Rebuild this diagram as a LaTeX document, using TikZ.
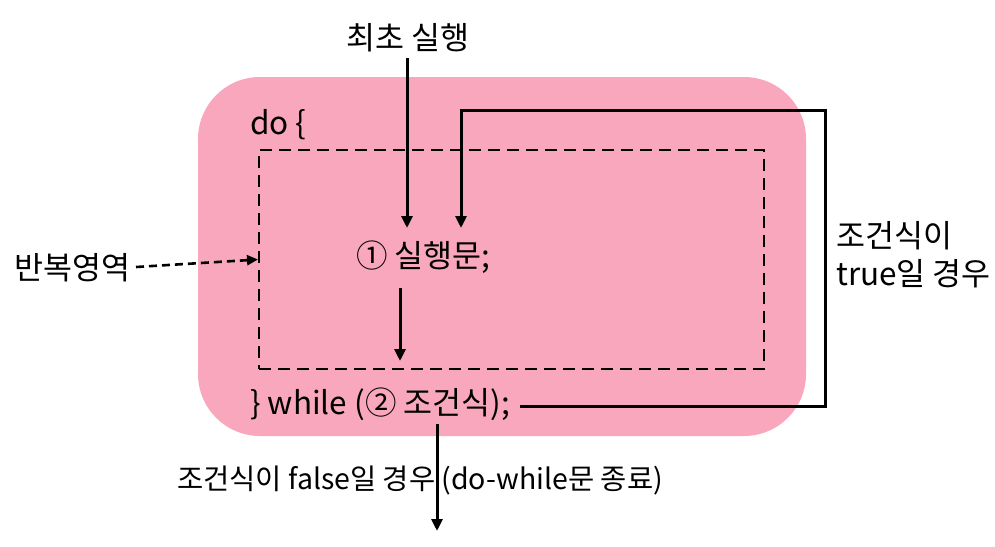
\documentclass[tikz,border=0pt]{standalone}
\usepackage{fontspec}
\setmainfont{Noto Sans CJK KR}
\usetikzlibrary{arrows.meta}
\definecolor{pinkbg}{RGB}{249,167,188}
\tikzset{
  lbl/.style={inner sep=0pt, font=\fontsize{31.5}{38}\selectfont},
  smalllbl/.style={inner sep=0pt, font=\fontsize{28.5}{34}\selectfont},
  arr/.style={line width=3pt, -{Triangle[length=12pt,width=11pt]}},
  dasharr/.style={line width=2.6pt, dash pattern=on 8pt off 5pt, -{Triangle[length=11pt,width=10pt]}},
  loopline/.style={line width=3pt},
  area/.style={draw, line width=2pt, dash pattern=on 12pt off 7pt},
}
\begin{document}
\begin{tikzpicture}[x=1pt,y=-1pt]
\useasboundingbox (0,0) rectangle (995,546);
\fill[pinkbg, rounded corners=62pt] (198,77) rectangle (806,436);
\node[area, minimum width=505pt, minimum height=219pt, anchor=north west] (region) at (258,149) {};
\node[lbl, anchor=west] (do) at (250,125) {do \{};
\node[lbl] (first) at (408,38) {최초 실행};
\node[lbl, anchor=west] (stmt) at (356,257) {① 실행문;};
\node[lbl, anchor=west] (cond) at (250,404) {\} while (② 조건식);};
\node[lbl, anchor=west] (rep) at (14,268) {반복영역};
\node[lbl, anchor=west, align=left] (truelbl) at (836,255) {조건식이\\true일 경우};
\node[smalllbl] (falselbl) at (420,481) {조건식이 false일 경우 (do-while문 종료)};
\coordinate (startTop) at (407,58);
\coordinate (stmtIn1) at (407,228);
\coordinate (stmtIn2) at (461,228);
\coordinate (loopStart) at (520,406);
\coordinate (stmtOut) at (400,288);
\coordinate (condIn) at (400,361);
\coordinate (exitTop) at (437,424);
\coordinate (exitEnd) at (437,531);
\draw[arr] (startTop) -- (stmtIn1);
\draw[loopline] (loopStart) -- (825,406) -- (825,110) -- (461,110) -- (461,200);
\draw[arr] (461,198) -- (stmtIn2);
\draw[arr] (stmtOut) -- (condIn);
\draw[dasharr] (136,267) -- (region.west);
\draw[arr] (exitTop) -- (exitEnd);
\end{tikzpicture}
\end{document}
